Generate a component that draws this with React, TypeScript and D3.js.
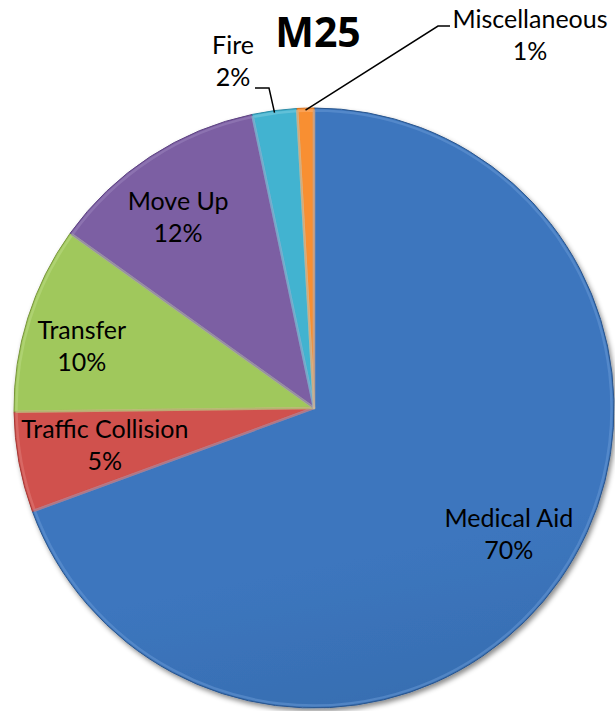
import React from "react";
import * as d3 from "d3";

const categories = ["Medical Aid", "Traffic Collision", "Transfer", "Move Up", "Fire", "Miscellaneous"];
const values = [69.4, 5.4, 10.1, 11.8, 2.4, 0.9];
const percentLabels = ["70%", "5%", "10%", "12%", "2%", "1%"];
const title = "M25";

const colorsTop = ["#3c76be", "#d0514e", "#a0c85c", "#7c5ea3", "#42b3d0", "#f88f33"];
const colorsBottom = ["#2a558c", "#a33936", "#78953c", "#5c4281", "#2c8ba5", "#d66e18"];
const colorsEdge = ["#6a9ad6", "#e07f7c", "#bbdc85", "#9c86bd", "#7fcde0", "#fbb57a"];

const W = 615, H = 711;
const cx = 314, cy = 408, R = 300;

const labelLayout: Array<{ inside: boolean; x?: number; y?: number; f?: number; dx?: number; dy?: number }> = [
  { inside: true, f: 0.78, dx: 3, dy: -7 },
  { inside: true, f: 0.78, dx: 21, dy: -4 },
  { inside: true, f: 0.78, dx: -9, dy: 9 },
  { inside: true, f: 0.78, dx: -8, dy: 6 },
  { inside: false, x: 233, y: 62 },
  { inside: false, x: 530, y: 36 },
];

export default function App() {
  const pie = d3.pie<number>().sort(null).value((d) => d)(values);
  const arc = d3.arc<d3.PieArcDatum<number>>().innerRadius(0).outerRadius(R);
  const arcIn = d3.arc<d3.PieArcDatum<number>>().innerRadius(0).outerRadius(R - 2.5);
  const font = "Lato, 'Open Sans', sans-serif";

  const polar = (a: number, r: number): [number, number] => [cx + r * Math.sin(a), cy - r * Math.cos(a)];

  const fireMid = (pie[4].startAngle + pie[4].endAngle) / 2;
  const miscMid = (pie[5].startAngle + pie[5].endAngle) / 2;
  const fireP = polar(fireMid, R);
  const miscP = polar(miscMid, R);

  return (
    <svg width={W} height={H} style={{ position: "absolute", left: 0, top: 0 }}>
      <defs>
        {categories.map((c, i) => (
          <linearGradient key={c} id={`g${i}`} gradientUnits="userSpaceOnUse" x1={cx - R * 0.2} y1={cy - R} x2={cx + R * 0.2} y2={cy + R}>
            <stop offset="0%" stopColor={colorsTop[i]} />
            <stop offset="100%" stopColor={colorsBottom[i]} />
          </linearGradient>
        ))}
        <filter id="sh" x="-10%" y="-10%" width="120%" height="120%">
          <feDropShadow dx="2" dy="3" stdDeviation="2.5" floodColor="#000" floodOpacity="0.45" />
        </filter>
      </defs>
      <g transform={`translate(${cx},${cy})`} filter="url(#sh)">
        {pie.map((p, i) => (
          <path key={i} d={arc(p) || ""} fill={`url(#g${i})`} stroke={colorsBottom[i]} strokeWidth={1} strokeLinejoin="round" />
        ))}
      </g>
      <g transform={`translate(${cx},${cy})`}>
        {pie.map((p, i) => (
          <path key={"h" + i} d={arcIn(p) || ""} fill="none" stroke={colorsEdge[i]} strokeOpacity={0.5} strokeWidth={2.5} strokeLinejoin="round" />
        ))}
      </g>
      <text x={318} y={47} textAnchor="middle" fontFamily="'Open Sans', Lato, sans-serif" fontWeight="bold" fontSize={41} fill="#000">{title}</text>
      <polyline points={`255,88 269,88 ${fireP[0]},${fireP[1] + 2}`} fill="none" stroke="#000" strokeWidth={1.5} />
      <polyline points={`${miscP[0]},${miscP[1] + 2} 438,26 450,26`} fill="none" stroke="#000" strokeWidth={1.5} />
      {pie.map((p, i) => {
        const L = labelLayout[i];
        let x: number, y: number;
        if (L.inside) {
          const mid = (p.startAngle + p.endAngle) / 2;
          const pt = polar(mid, R * (L.f as number));
          x = pt[0] + (L.dx || 0);
          y = pt[1] + (L.dy || 0);
        } else {
          x = L.x as number;
          y = L.y as number;
        }
        return (
          <text key={"t" + i} x={x} textAnchor="middle" fontFamily={font} fontSize={25} fill="#000">
            <tspan x={x} y={y - 8}>{categories[i]}</tspan>
            <tspan x={x} y={y + 24}>{percentLabels[i]}</tspan>
          </text>
        );
      })}
    </svg>
  );
}
